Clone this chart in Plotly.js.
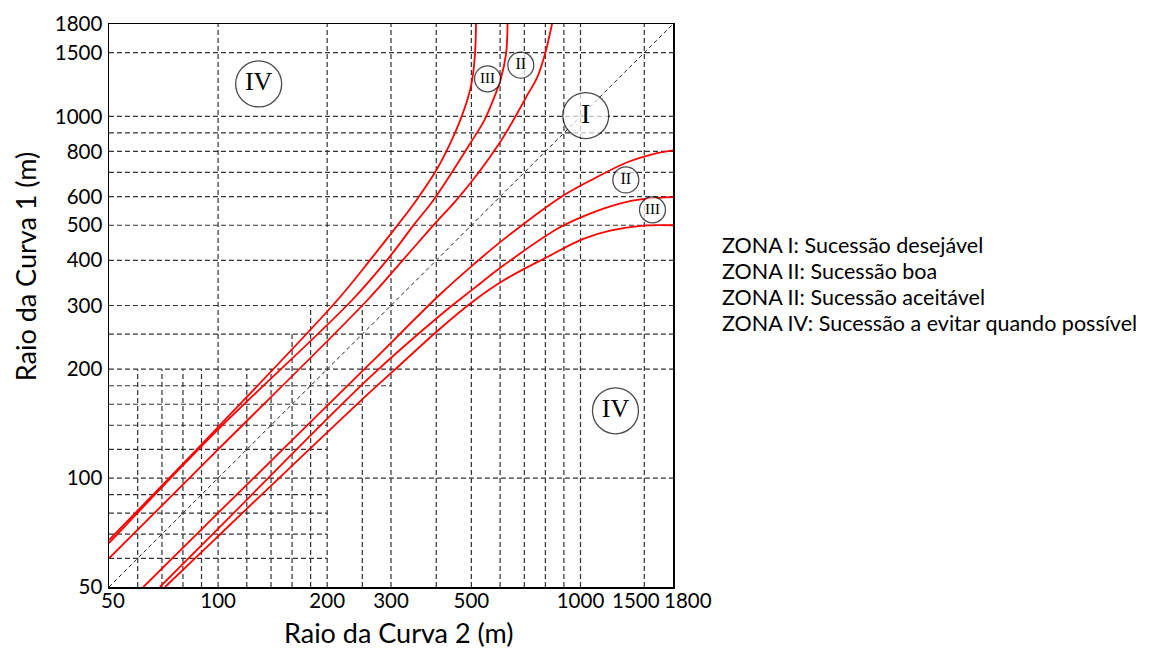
<!DOCTYPE html>
<html><head><meta charset="utf-8">
<script src="https://cdn.plot.ly/plotly-3.0.1.min.js"></script>
<style>html,body{margin:0;padding:0;background:#fff;}#chart{width:1165px;height:650px;}</style>
</head><body><div id="chart"></div>
<script>
// ---- tick labels ----
const xTickVals = [50, 100, 200, 300, 500, 1000, 1500, 1800];
const xTickText = ['50', '100', '200', '300', '500', '1000', '1500', '1800'];
const yTickVals = [50, 100, 200, 300, 400, 500, 600, 800, 1000, 1500, 1800];
const yTickText = ['50', '100', '200', '300', '400', '500', '600', '800', '1000', '1500', '1800'];
// labels of the crowded x ticks are drawn beside their tick (pixel offsets)
const xCrowded = {50: 4, 1500: -8, 1800: 15};

// ---- grid lines (value, from, to) ----
const vGridFull = [100, 200, 300, 400, 500, 600, 700, 800, 900, 1000, 1500];
const hGridFull = [100, 200, 250, 300, 400, 500, 600, 700, 800, 900, 1000, 1500];
const vGridPartial = [[60, 50, 200], [70, 50, 200], [80, 50, 200], [90, 50, 200], [120, 50, 200], [140, 50, 200], [160, 50, 250], [180, 50, 300], [250, 50, 300]];
const hGridPartial = [[60, 50, 200], [70, 50, 200], [80, 50, 200], [90, 50, 200], [120, 50, 200], [140, 50, 200], [160, 50, 250], [180, 50, 300]];

// ---- curves: Raio da Curva 2 (x) vs Raio da Curva 1 (y) ----
const upperOuterX = [50, 99.1, 212.9, 265.9, 313.6, 351.7, 399.2, 436.4, 465, 489.3, 501.9, 511.6, 514.9];
const upperOuterY = [67.4, 137.1, 309.7, 406.9, 501.9, 584.7, 707.4, 839.8, 971.9, 1125, 1253, 1487.6, 1800];
const upperMiddleX = [50, 99.1, 233.7, 296.2, 347.2, 391.7, 444.8, 495.6, 541.8, 577.3, 603.6, 623.1, 629.1];
const upperMiddleY = [66.1, 135, 309.7, 406.9, 501.9, 584.7, 707.4, 839.8, 971.9, 1125, 1277, 1487.6, 1800];
const upperInnerX = [50, 99.1, 257.6, 327.9, 394.2, 453.3, 528.1, 596, 651.2, 716.3, 758.5, 798.1, 834.4];
const upperInnerY = [60, 118.9, 309.7, 406.9, 501.9, 584.7, 707.4, 839.8, 971.9, 1153.5, 1277, 1487.6, 1800];

const lowerInnerX = [62.2, 99.1, 262.5, 409.5, 509.3, 612.4, 877.9, 1084.8, 1341.3, 1588.3, 1800];
const lowerInnerY = [50, 79.4, 207.1, 321.7, 391, 456.2, 596, 671, 745.6, 786.4, 805];
const lowerMiddleX = [69.1, 99.1, 262.5, 409.5, 509.3, 612.4, 877.9, 1084.8, 1341.3, 1522.9, 1800];
const lowerMiddleY = [50, 71.8, 190.2, 281.5, 335, 386.8, 493.4, 542.8, 580, 592, 598];
const lowerOuterX = [71.4, 99.1, 262.5, 305.8, 409.5, 509.3, 612.4, 806.6, 1018, 1206.4, 1490.4, 1800];
const lowerOuterY = [50, 68.5, 172.9, 198.5, 258.8, 309.7, 351.7, 407.7, 458.3, 483.1, 499, 500];

const diagX = [50, 1800];
const diagY = [50, 1800];

// ---- zone labels ----
const zoneText = ['IV', 'IV', 'I', 'III', 'II', 'II', 'III'];
const zoneX = [129.4, 1249, 1034, 554, 684.3, 1333.7, 1580];
const zoneY = [1229, 153.5, 1005, 1270, 1385, 667.2, 551.4];

const legendLines = [
  'ZONA I: Sucessão desejável',
  'ZONA II: Sucessão boa',
  'ZONA II: Sucessão aceitável',
  'ZONA IV: Sucessão a evitar quando possível'
];

const FONT = 'Lato, "Open Sans", sans-serif';
const TICKSIZE = 20.5;
const red = '#ff0000';

function curve(x, y) {
  return {x: x, y: y, type: 'scatter', mode: 'lines', hoverinfo: 'skip',
    line: {color: red, width: 1.8, shape: 'spline', smoothing: 1}};
}

const traces = [
  {x: diagX, y: diagY, type: 'scatter', mode: 'lines', hoverinfo: 'skip',
   line: {color: '#222', width: 1, dash: '4px,3px'}},
  curve(upperOuterX, upperOuterY),
  curve(upperMiddleX, upperMiddleY),
  curve(upperInnerX, upperInnerY),
  curve(lowerInnerX, lowerInnerY),
  curve(lowerMiddleX, lowerMiddleY),
  curve(lowerOuterX, lowerOuterY),
  {x: zoneX, y: zoneY, text: zoneText, type: 'scatter', mode: 'markers+text', hoverinfo: 'skip',
   textposition: 'middle center',
   marker: {size: [46, 46, 46, 26, 26, 26, 26], color: '#fff', line: {color: '#000', width: 1.3}},
   textfont: {family: '"Liberation Serif", serif', size: [26, 26, 28, 15, 16, 16, 15], color: '#000'}}
];

const shapes = [];
const gridStyle = {color: '#333', width: 1.2, dash: '5px,3px'};
vGridFull.forEach(v => shapes.push({type: 'line', xref: 'x', yref: 'y', x0: v, x1: v, y0: 50, y1: 1800, layer: 'below', line: gridStyle}));
hGridFull.forEach(v => shapes.push({type: 'line', xref: 'x', yref: 'y', y0: v, y1: v, x0: 50, x1: 1800, layer: 'below', line: gridStyle}));
vGridPartial.forEach(g => shapes.push({type: 'line', xref: 'x', yref: 'y', x0: g[0], x1: g[0], y0: g[1], y1: g[2], layer: 'below', line: gridStyle}));
hGridPartial.forEach(g => shapes.push({type: 'line', xref: 'x', yref: 'y', y0: g[0], y1: g[0], x0: g[1], x1: g[2], layer: 'below', line: gridStyle}));

const annotations = legendLines.map((t, i) => ({
  xref: 'paper', yref: 'paper', x: 1.0833, y: 0.6075 - i * 0.0462,
  xanchor: 'left', yanchor: 'middle', showarrow: false, text: t,
  font: {family: FONT, size: 21.5, color: '#000'}
}));
annotations.push({xref: 'paper', yref: 'paper', x: 0.514, y: -0.081, xanchor: 'center', yanchor: 'middle',
  showarrow: false, text: 'Raio da Curva 2 (m)', font: {family: FONT, size: 27, color: '#000'}});
annotations.push({xref: 'paper', yref: 'paper', x: -0.148, y: 0.569, xanchor: 'center', yanchor: 'middle',
  showarrow: false, textangle: -90, text: 'Raio da Curva 1 (m)', font: {family: FONT, size: 27, color: '#000'}});
// crowded x tick labels placed next to their ticks
xTickVals.forEach((v, i) => {
  if (xCrowded[v] !== undefined) {
    annotations.push({xref: 'x', yref: 'paper', x: Math.log10(v), y: 0, xshift: xCrowded[v], yshift: -13,
      xanchor: 'center', yanchor: 'middle', showarrow: false, text: xTickText[i],
      font: {family: FONT, size: TICKSIZE, color: '#000'}});
  }
});
const xAxisText = xTickText.map((t, i) => xCrowded[xTickVals[i]] !== undefined ? '' : t);

const axisCommon = {
  type: 'log', showgrid: false, zeroline: false, showline: true, mirror: true,
  linecolor: '#000', linewidth: 1.5, ticks: '', ticklen: 0, tickangle: 0,
  tickfont: {family: FONT, size: TICKSIZE, color: '#000'}, fixedrange: true
};

const layout = {
  width: 1165, height: 650,
  margin: {l: 109, r: 492, t: 24, b: 63},
  paper_bgcolor: '#fff', plot_bgcolor: '#fff',
  showlegend: false, hovermode: false,
  xaxis: Object.assign({}, axisCommon, {range: [Math.log10(50), Math.log10(1800)], tickvals: xTickVals, ticktext: xAxisText, ticklabelstandoff: -5}),
  yaxis: Object.assign({}, axisCommon, {range: [Math.log10(50), Math.log10(1800)], tickvals: yTickVals, ticktext: yTickText, ticklabelstandoff: 1}),
  shapes: shapes,
  annotations: annotations
};

Plotly.newPlot('chart', traces, layout, {staticPlot: true, displayModeBar: false});
</script>
</body></html>
